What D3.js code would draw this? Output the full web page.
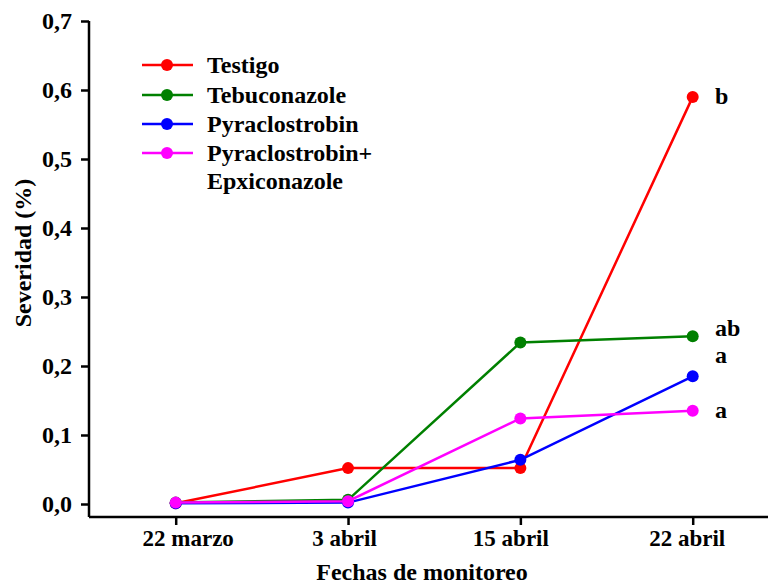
<!DOCTYPE html>
<html>
<head>
<meta charset="utf-8">
<script src="https://cdn.jsdelivr.net/npm/d3@7"></script>
<style>
  body { margin: 0; background: #fff; }
  text { font-family: "Liberation Serif", "Times New Roman", serif; font-weight: bold; }
</style>
</head>
<body>
<svg id="chart" width="768" height="585"></svg>
<script>
// data
var fechas = ["22 marzo", "3 abril", "15 abril", "22 abril"];
var yTicks = [0, 0.1, 0.2, 0.3, 0.4, 0.5, 0.6, 0.7];
var tratamientos = ["Testigo", "Tebuconazole", "Pyraclostrobin", "Pyraclostrobin+ Epxiconazole"];
var colores = ["#ff0000", "#008000", "#0000ff", "#ff00ff"];
var testigo = [0.001, 0.052, 0.052, 0.590];
var tebuconazole = [0.002, 0.006, 0.234, 0.243];
var pyraclostrobin = [0.001, 0.002, 0.064, 0.185];
var pyraEpx = [0.002, 0.004, 0.124, 0.135];
var letras = ["b", "ab", "a", "a"];

var series = [testigo, tebuconazole, pyraclostrobin, pyraEpx];

var svg = d3.select("#chart");
var fs = 24;
var axLeft = 89, axTop = 21, axBottom = 517, axRight = 768;
// the original's date labels are not quite centred on their ticks
var labelShift = [12, -4, -10, -6];

var x = d3.scalePoint()
    .domain(fechas)
    .range([175.7, 692.7]);

var y = d3.scaleLinear()
    .domain([0, 0.7])
    .range([504, axTop]);

var fmt = function (d) { return d3.format(".1f")(d).replace(".", ","); };

// y axis
var yAxis = svg.append("g")
    .attr("transform", "translate(" + axLeft + ",0)")
    .call(d3.axisLeft(y).tickValues(yTicks).tickFormat(fmt).tickSize(8).tickPadding(9));
yAxis.select(".domain").attr("d", "M0," + axTop + "V" + axBottom);

// x axis
var xAxis = svg.append("g")
    .attr("transform", "translate(0," + axBottom + ")")
    .call(d3.axisBottom(x).tickSize(8).tickPadding(5));
xAxis.select(".domain").attr("d", "M" + axLeft + ",0H" + axRight);

svg.selectAll(".tick line, .domain")
    .attr("stroke", "#000")
    .attr("stroke-width", 2.5);
svg.selectAll(".tick text")
    .attr("font-size", fs)
    .attr("font-family", "Liberation Serif, serif")
    .attr("font-weight", "bold")
    .attr("fill", "#000");
xAxis.selectAll(".tick text")
    .attr("font-size", 23)
    .attr("dx", function (d, i) { return labelShift[i]; });

// axis titles
svg.append("text")
    .attr("transform", "translate(31,253) rotate(-90)")
    .attr("text-anchor", "middle")
    .attr("font-size", fs)
    .text("Severidad (%)");

svg.append("text")
    .attr("x", 422)
    .attr("y", 580)
    .attr("text-anchor", "middle")
    .attr("font-size", fs)
    .text("Fechas de monitoreo");

// lines + markers
var line = d3.line()
    .x(function (d, i) { return x(fechas[i]); })
    .y(function (d) { return y(d); });

series.forEach(function (s, k) {
    var g = svg.append("g");
    g.append("path")
        .attr("d", line(s))
        .attr("fill", "none")
        .attr("stroke", colores[k])
        .attr("stroke-width", 2.5);
    g.selectAll("circle")
        .data(s)
        .enter().append("circle")
        .attr("cx", function (d, i) { return x(fechas[i]); })
        .attr("cy", function (d) { return y(d); })
        .attr("r", 6)
        .attr("fill", colores[k]);
});

// letters of significance
var letraY = [0.590, 0.253, 0.215, 0.135];
letras.forEach(function (l, k) {
    svg.append("text")
        .attr("x", 715)
        .attr("y", y(letraY[k]) + 7)
        .attr("font-size", fs)
        .text(l);
});

// legend
var legRows = [65, 95, 124, 153];
tratamientos.forEach(function (t, k) {
    var g = svg.append("g").attr("transform", "translate(0," + legRows[k] + ")");
    g.append("line")
        .attr("x1", 142).attr("x2", 193)
        .attr("stroke", colores[k]).attr("stroke-width", 2.5);
    g.append("circle")
        .attr("cx", 167).attr("r", 6).attr("fill", colores[k]);
    var parts = t.split(" ");
    var txt = g.append("text").attr("x", 207).attr("y", 8).attr("font-size", fs);
    parts.forEach(function (p, j) {
        txt.append("tspan").attr("x", 207).attr("dy", j === 0 ? 0 : 28).text(p);
    });
});
</script>
</body>
</html>
